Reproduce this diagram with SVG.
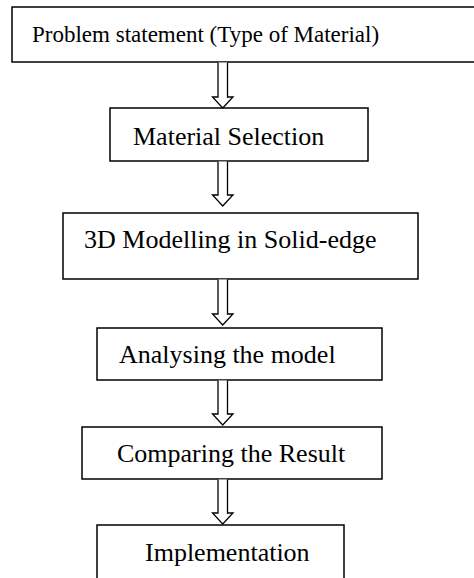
<svg xmlns="http://www.w3.org/2000/svg" width="474" height="578" viewBox="0 0 474 578">
<style>
.box{fill:#fff;stroke:#000;stroke-width:1.5}
.arr{fill:#fff;stroke:#000;stroke-width:1.3;stroke-linejoin:miter}
.t{font-family:"Liberation Serif","Times New Roman",serif;font-size:26px;fill:#000}
</style>
<rect width="474" height="578" fill="#fff"/>
<g id="n1"><rect class="box" x="12" y="7" width="480" height="55"/><text class="t" x="32" y="42" style="font-size:23px">Problem statement (Type of Material)</text></g>
<g id="n2"><rect class="box" x="110" y="108" width="258" height="53"/><text class="t" x="133" y="145">Material Selection</text></g>
<g id="n3"><rect class="box" x="63" y="213" width="355" height="66"/><text class="t" x="84" y="248">3D Modelling in Solid-edge</text></g>
<g id="n4"><rect class="box" x="97" y="328" width="285" height="52"/><text class="t" x="119" y="363">Analysing the model</text></g>
<g id="n5"><rect class="box" x="82" y="427" width="300" height="52"/><text class="t" x="117" y="462">Comparing the Result</text></g>
<g id="n6"><rect class="box" x="97" y="525" width="247" height="70"/><text class="t" x="145" y="561">Implementation</text></g>
<g id="connectors">
<path class="arr" d="M218,62.5 V97 H212.5 L222.7,108 L233,97 H227.5 V62.5"/>
<path class="arr" d="M218,161.5 V195 H212.5 L222.7,206 L233,195 H227.5 V161.5"/>
<path class="arr" d="M218,279.5 V314 H212.5 L222.7,325 L233,314 H227.5 V279.5"/>
<path class="arr" d="M218,380.5 V414 H212.5 L222.7,425 L233,414 H227.5 V380.5"/>
<path class="arr" d="M218,479.5 V513 H212.5 L222.7,524 L233,513 H227.5 V479.5"/>
</g>
</svg>
